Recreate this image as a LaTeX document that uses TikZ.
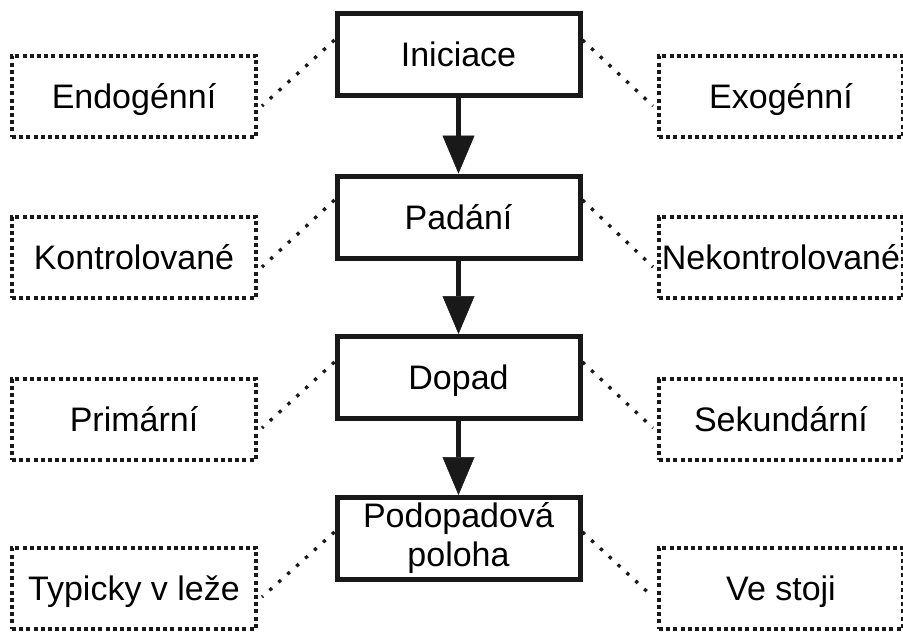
\documentclass[tikz,border=0pt]{standalone}
\usepackage{fontspec}
\setmainfont{Liberation Sans}
\usetikzlibrary{arrows.meta}
\begin{document}
\begin{tikzpicture}[x=1pt,y=-1pt,
  mainbox/.style={draw=black!90, line width=5pt, minimum width=243pt, minimum height=82pt, inner sep=0pt, font=\fontsize{34}{39}\selectfont},
  oneline/.style={text height=24pt, text depth=0pt},
  sidebox/.style={draw=black!90, line width=4pt, dash pattern=on 4pt off 3.2pt, minimum width=244pt, minimum height=81pt, inner sep=0pt, font=\fontsize{34}{39}\selectfont, text height=24pt, text depth=0pt},
  flow/.style={draw=black!90, line width=4.5pt, -{Triangle[width=32pt,length=38pt,line width=0.5pt]}},
  link/.style={draw=black!90, line width=3.3pt, dash pattern=on 3.3pt off 8.7pt}]
\fill[white] (0,0) rectangle (903,632);
\useasboundingbox (0,0) rectangle (903,632);

% main chain
\node[mainbox, oneline] (c1) at (458.5,54) {Iniciace};
\node[mainbox, oneline] (c2) at (458.5,217) {Padání};
\node[mainbox, oneline] (c3) at (458.5,377.5) {Dopad};
\node[mainbox, align=center] (c4) at (458.5,538.5) {Podopadová\\poloha};

% side boxes
\node[sidebox] (l1) at (134,96) {Endogénní};
\node[sidebox] (l2) at (134,257.5) {Kontrolované};
\node[sidebox] (l3) at (134,419.5) {Primární};
\node[sidebox] (l4) at (134,588) {Typicky v leže};
\node[sidebox] (r1) at (781,96) {Exogénní};
\node[sidebox] (r2) at (781,257.5) {Nekontrolované};
\node[sidebox] (r3) at (781,419.5) {Sekundární};
\node[sidebox] (r4) at (781,588) {Ve stoji};

% arrows
\draw[flow] (c1.south) -- (c2.north);
\draw[flow] (c2.south) -- (c3.north);
\draw[flow] (c3.south) -- (c4.north);

% dotted links
\draw[link] ([yshift=14pt]c1.west) -- ([xshift=4pt,yshift=-10pt]l1.east);
\draw[link] ([yshift=17pt]c2.west) -- ([xshift=4pt,yshift=-9.5pt]l2.east);
\draw[link] ([yshift=15.5pt]c3.west) -- ([xshift=4pt,yshift=-8.5pt]l3.east);
\draw[link] ([yshift=6.5pt]c4.west) -- ([xshift=4pt,yshift=-9pt]l4.east);
\draw[link] ([yshift=14pt]c1.east) -- ([xshift=-4pt,yshift=-10pt]r1.west);
\draw[link] ([yshift=17pt]c2.east) -- ([xshift=-4pt,yshift=-9.5pt]r2.west);
\draw[link] ([yshift=15.5pt]c3.east) -- ([xshift=-4pt,yshift=-8.5pt]r3.west);
\draw[link] ([yshift=6.5pt]c4.east) -- ([xshift=-4pt,yshift=-9pt]r4.west);
\end{tikzpicture}
\end{document}
